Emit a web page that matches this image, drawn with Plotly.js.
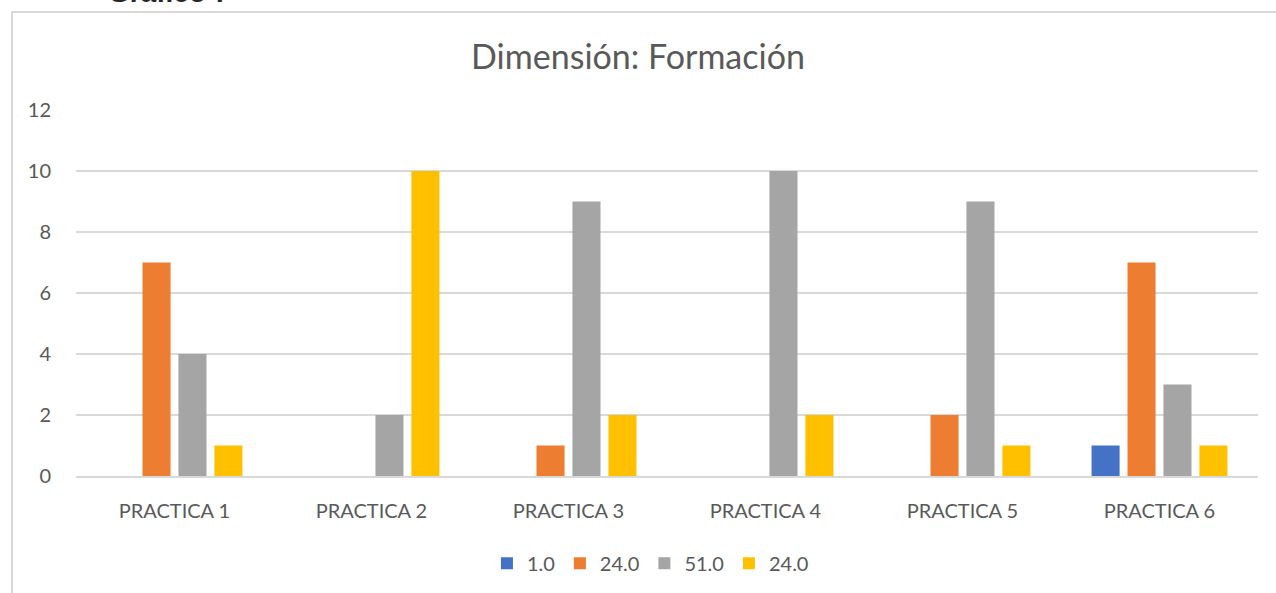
<!DOCTYPE html>
<html>
<head>
<meta charset="utf-8">
<script src="https://cdn.plot.ly/plotly-3.0.1.min.js"></script>
<style>
  html, body { margin: 0; padding: 0; background: #fff; overflow: hidden; }
  #wrap { position: relative; width: 1276px; height: 593px; }
  #chart { position: absolute; left: 0; top: 0; width: 1276px; height: 593px; }
  #frame { position: absolute; left: 11px; top: 11px; width: 1300px; height: 620px;
           border: 2px solid #d9d9d9; box-sizing: border-box; pointer-events: none; }
  #cap { position: absolute; left: 108px; top: -23px; font-family: "Liberation Sans", Arial, sans-serif;
         font-weight: bold; font-size: 28px; color: #262626; white-space: nowrap; }
</style>
</head>
<body>
<div id="wrap">
  <div id="chart"></div>
  <div id="frame"></div>
  <div id="cap">Gráfico 7</div>
</div>
<script>
const categories = ["PRACTICA 1", "PRACTICA 2", "PRACTICA 3", "PRACTICA 4", "PRACTICA 5", "PRACTICA 6"];
const seriesNames = ["1.0", "24.0", "51.0", "24.0"];
const seriesA = [0, 0, 0, 0, 0, 1];
const seriesB = [7, 0, 1, 0, 2, 7];
const seriesC = [4, 2, 9, 10, 9, 3];
const seriesD = [1, 10, 2, 2, 1, 1];
const colors = ["#4472C4", "#ED7D31", "#A5A5A5", "#FFC000"];
const yTicks = [0, 2, 4, 6, 8, 10, 12];

const allSeries = [seriesA, seriesB, seriesC, seriesD];
const traces = allSeries.map((vals, i) => ({
  type: "bar",
  name: seriesNames[i],
  x: categories,
  y: vals,
  marker: { color: colors[i] },
  hoverinfo: "x+y"
}));

const font = "Lato, 'Open Sans', sans-serif";
const layout = {
  width: 1276, height: 593,
  margin: { l: 76, r: 18, t: 110, b: 116 },
  paper_bgcolor: "rgba(0,0,0,0)",
  plot_bgcolor: "rgba(0,0,0,0)",
  barmode: "group",
  bargap: 0.27,
  bargroupgap: 0.22,
  title: { text: "Dimensión: Formación", font: { family: font, size: 34, color: "#595959" },
           x: 0.5, xanchor: "center", y: 0.903, yanchor: "middle" },
  font: { family: font, size: 20, color: "#595959" },
  xaxis: { type: "category", showgrid: false, zeroline: false, showline: true,
           linecolor: "#d9d9d9", linewidth: 1.5, ticks: "", ticklabelstandoff: 16,
           tickfont: { family: font, size: 20, color: "#595959" } },
  yaxis: { range: [0, 12], tickvals: yTicks, ticktext: yTicks.map(String),
           showgrid: true, gridcolor: "#d9d9d9", gridwidth: 1.5, zeroline: false,
           showline: false, ticks: "", ticklabelstandoff: 24,
           tickfont: { family: font, size: 20, color: "#595959" } },
  showlegend: true,
  legend: { orientation: "h", x: 0.486, xanchor: "center", y: -0.235, yanchor: "middle",
            font: { family: font, size: 20, color: "#595959" },
            itemwidth: 30, traceorder: "normal" }
};

Plotly.newPlot("chart", traces, layout, { displayModeBar: false, staticPlot: true });
</script>
</body>
</html>
